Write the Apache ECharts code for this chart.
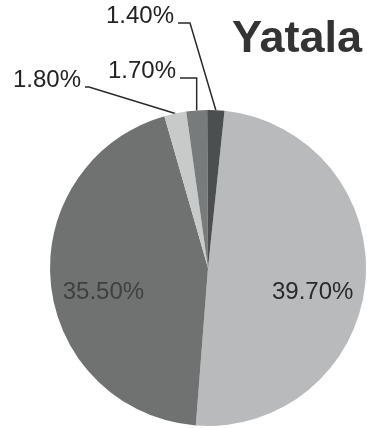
<!DOCTYPE html>
<html>
<head>
<meta charset="utf-8">
<script src="https://cdn.jsdelivr.net/npm/echarts@6/dist/echarts.min.js"></script>
<style>
html,body{margin:0;padding:0;background:#fff;}
#c{width:367px;height:428px;}
</style>
</head>
<body>
<div id="c"></div>
<script>
// ---- data ----
var categories = ['A', 'B', 'C', 'D', 'E'];
var values = [39.70, 35.50, 1.80, 1.70, 1.40];
var labels = ['39.70%', '35.50%', '1.80%', '1.70%', '1.40%'];
var colors = ['#b8babb', '#6f7271', '#c8caca', '#787b7b', '#4c4f4f'];
var title = 'Yatala';

// ---- layout (styles / positions of text) ----
var outerLabelPos = { 2: [81, 80], 3: [176, 71], 4: [174, 16] }; // [right edge x, center y]
var elbowX = { 2: null, 3: 'anchor', 4: 190 };

var chart = echarts.init(document.getElementById('c'), null, {renderer: 'canvas'});

var data = categories.map(function (c, i) {
  var item = { name: c, value: values[i], itemStyle: { color: colors[i] } };
  if (i === 0) {
    item.label = { position: 'inside', offset: [23, 17], color: '#2a2a2a' };
  } else if (i === 1) {
    item.label = { position: 'inside', offset: [-23, 16], color: '#3e4141' };
  }
  return item;
});

chart.setOption({
  animation: false,
  backgroundColor: '#ffffff',
  title: {
    text: title,
    left: 227,
    top: 12,
    textStyle: { fontFamily: 'Liberation Sans, Arial, sans-serif', fontSize: 45, fontWeight: 'bold', color: '#333333' }
  },
  series: [{
    type: 'pie',
    center: [208, 268],
    radius: 158,
    startAngle: 84,
    clockwise: true,
    avoidLabelOverlap: false,
    data: data,
    itemStyle: { borderWidth: 0 },
    label: {
      show: true,
      position: 'outside',
      formatter: function (p) { return labels[p.dataIndex]; },
      fontFamily: 'Liberation Sans, Arial, sans-serif',
      fontSize: 24,
      color: '#222222'
    },
    labelLine: {
      show: true,
      length: 10,
      length2: 10,
      lineStyle: { color: '#2a2a2a', width: 1.5 }
    },
    labelLayout: function (p) {
      var pos = outerLabelPos[p.dataIndex];
      if (!pos) return {};
      var anchor = p.labelLinePoints ? p.labelLinePoints[0] : null;
      var res = { x: pos[0], y: pos[1], align: 'right', verticalAlign: 'middle' };
      if (anchor) {
        var ly = pos[1] + 7;
        var lx = pos[0] + 4;
        var e = elbowX[p.dataIndex];
        var pts;
        if (e === null) {
          pts = [anchor, [lx + 4, ly], [lx, ly]];
        } else if (e === 'anchor') {
          pts = [anchor, [anchor[0], ly], [lx, ly]];
        } else {
          pts = [anchor, [e, ly], [lx, ly]];
        }
        res.labelLinePoints = pts;
      }
      return res;
    }
  }]
});
</script>
</body>
</html>
